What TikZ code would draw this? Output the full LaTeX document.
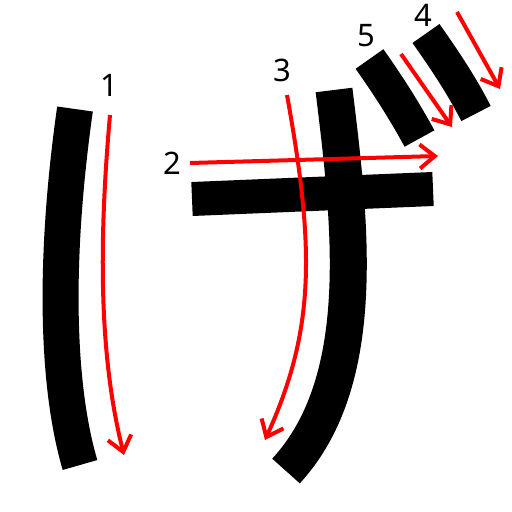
\documentclass[tikz,border=0pt]{standalone}
\usepackage{fontspec}
\setmainfont{Noto Sans}
\usetikzlibrary{arrows.meta}
\begin{document}
\begin{tikzpicture}[x=1pt,y=-1pt,
  brush/.style={line width=36pt,line cap=butt,black},
  order/.style={line width=4pt,red,-{Straight Barb[length=15pt,width=24pt]}},
  num/.style={font=\fontsize{31}{31}\selectfont,inner sep=0pt}]
\useasboundingbox (0,0) rectangle (512,512);
% strokes
\draw[brush] (75,109) .. controls (55,250) and (55,380) .. (80,465);
\draw[brush,line width=34pt] (192,199) -- (433,189);
\draw[brush,line width=37pt] (334,90) .. controls (350,220) and (370,380) .. (286,471);
\draw[brush,line width=34pt] (369.5,59) .. controls (390,88) and (405,112) .. (419.5,138.5);
\draw[brush,line width=33pt] (426,33.5) .. controls (446,62) and (462,86) .. (476,113.5);
% arrows
\draw[order] (110,115) .. controls (98,250) and (100,360) .. (124,455);
\draw[order] (190,163) -- (438,156);
\draw[order] (287,95) .. controls (315,250) and (315,330) .. (265,440);
\draw[order] (457,12) -- (500,89);
\draw[order] (401,54) -- (452,127);
% labels
\node[num] (n1) at (109,85) {1};
\node[num] (n2) at (172,163) {2};
\node[num] (n3) at (282,70) {3};
\node[num] (n4) at (423,15) {4};
\node[num] (n5) at (366,36) {5};
\end{tikzpicture}
\end{document}
